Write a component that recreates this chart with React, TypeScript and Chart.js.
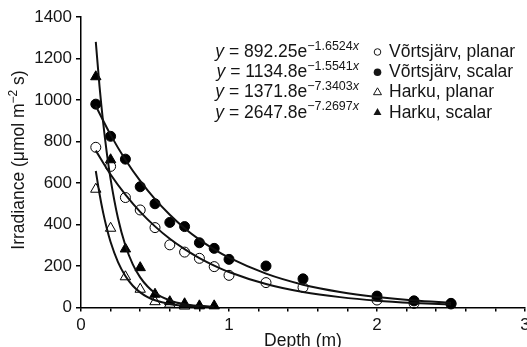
import React, { useEffect, useRef } from 'react';
import { Chart, registerables } from 'chart.js';

Chart.register(...registerables);

// ---- Data ----
const vortsDepths = [0.1, 0.2, 0.3, 0.4, 0.5, 0.6, 0.7, 0.8, 0.9, 1.0, 1.25, 1.5, 2.0, 2.25, 2.5];
const vortsPlanar = [772, 680, 530, 470, 385, 302, 267, 237, 197, 155, 120, 97, 36, 20, 17];
const vortsScalar = [980, 825, 715, 582, 500, 410, 390, 312, 285, 232, 200, 138, 55, 32, 20];

const harkuPlanarDepths = [0.1, 0.2, 0.3, 0.4, 0.5, 0.6, 0.7];
const harkuPlanar = [570, 382, 148, 88, 28, 16, 7];
const harkuScalarDepths = [0.1, 0.2, 0.3, 0.4, 0.5, 0.6, 0.7, 0.8, 0.9];
const harkuScalar = [1112, 712, 282, 192, 64, 28, 18, 8, 8];

// fitted curves
const vortsFitDepths = [0.1, 0.2, 0.3, 0.4, 0.5, 0.6, 0.7, 0.8, 0.9, 1.0, 1.25, 1.5, 1.75, 2.0, 2.25, 2.5];
const vortsPlanarFit = [756, 641, 544, 461, 391, 331, 281, 238, 202, 171, 113, 75, 50, 33, 22, 14];
const vortsScalarFit = [971, 832, 712, 610, 522, 447, 382, 327, 280, 240, 163, 110, 75, 51, 34, 23];
const harkuPlanarFitDepths = [0.1, 0.125, 0.15, 0.175, 0.2, 0.25, 0.3, 0.35, 0.4, 0.45, 0.5, 0.6, 0.7, 0.8];
const harkuPlanarFit = [658, 548, 456, 380, 316, 219, 152, 105, 73, 50, 35, 17, 8, 4];
const harkuScalarFitDepths = [0.1, 0.125, 0.15, 0.175, 0.2, 0.25, 0.3, 0.35, 0.4, 0.45, 0.5, 0.6, 0.7, 0.8, 0.9];
const harkuScalarFit = [1280, 1067, 890, 742, 619, 430, 299, 208, 145, 101, 70, 34, 16, 8, 4];

// ---- Text ----
const xTitle = 'Depth (m)';
const yTitleParts = ['Irradiance (\u03bcmol m', '\u22122', ' s)'];
const eqCoefs = ['892.25e', '1134.8e', '1371.8e', '2647.8e'];
const eqExps = ['\u22121.6524', '\u22121.5541', '\u22127.3403', '\u22127.2697'];
const legendLabels = ['V\u00f5rtsj\u00e4rv, planar', 'V\u00f5rtsj\u00e4rv, scalar', 'Harku, planar', 'Harku, scalar'];
const legendMarkers = ['openCircle', 'filledCircle', 'openTriangle', 'filledTriangle'];

const FONT = 'Liberation Sans, Arial, Helvetica, sans-serif';
const INK = '#151515';

const pts = (xs: number[], ys: number[]) => xs.map((x, i) => ({ x, y: ys[i] }));

const overlayPlugin = {
  id: 'overlayText',
  afterDraw(chart: any) {
    const ctx = chart.ctx as CanvasRenderingContext2D;
    const area = chart.chartArea;
    ctx.save();
    ctx.fillStyle = INK;
    ctx.strokeStyle = INK;

    // x title
    ctx.font = `17.5px ${FONT}`;
    ctx.textAlign = 'center';
    ctx.textBaseline = 'alphabetic';
    ctx.fillText(xTitle, (area.left + area.right) / 2, 346);

    // y title (rotated, with superscript)
    const mainF = `17.5px ${FONT}`;
    const supF = `12px ${FONT}`;
    ctx.font = mainF;
    const w0 = ctx.measureText(yTitleParts[0]).width;
    const w2 = ctx.measureText(yTitleParts[2]).width;
    ctx.font = supF;
    const w1 = ctx.measureText(yTitleParts[1]).width;
    const total = w0 + w1 + w2;
    ctx.save();
    ctx.translate(24, 160);
    ctx.rotate(-Math.PI / 2);
    ctx.textAlign = 'left';
    let cx = -total / 2;
    ctx.font = mainF;
    ctx.fillText(yTitleParts[0], cx, 0);
    cx += w0;
    ctx.font = supF;
    ctx.fillText(yTitleParts[1], cx, -7);
    cx += w1;
    ctx.font = mainF;
    ctx.fillText(yTitleParts[2], cx, 0);
    ctx.restore();

    // equations + legend
    const baseY = 57;
    const step = 20.2;
    const eqRight = 359;
    const mF = `17.5px ${FONT}`;
    const mIF = `italic 17.5px ${FONT}`;
    const sF = `12.5px ${FONT}`;
    const sIF = `italic 12.5px ${FONT}`;
    ctx.textAlign = 'left';
    for (let i = 0; i < eqCoefs.length; i++) {
      const by = baseY + i * step;
      const segs: [string, string, number][] = [
        ['y', mIF, 0],
        [' = ' + eqCoefs[i], mF, 0],
        [eqExps[i], sF, -7.5],
        ['x', sIF, -7.5],
      ];
      let tw = 0;
      const widths = segs.map(([t, f]) => {
        ctx.font = f;
        const w = ctx.measureText(t).width;
        tw += w;
        return w;
      });
      let sx = eqRight - tw;
      segs.forEach(([t, f, dy], k) => {
        ctx.font = f;
        ctx.fillText(t, sx, by + dy);
        sx += widths[k];
      });

      // marker
      const mx = 377.5;
      const my = by - 5;
      const m = legendMarkers[i];
      ctx.lineWidth = 1;
      ctx.beginPath();
      if (m.endsWith('Circle')) {
        ctx.arc(mx, my, m === 'openCircle' ? 3.3 : 3.8, 0, Math.PI * 2);
      } else {
        const r = 4.6;
        ctx.moveTo(mx, my - r);
        ctx.lineTo(mx + r * 0.866, my + r * 0.5);
        ctx.lineTo(mx - r * 0.866, my + r * 0.5);
        ctx.closePath();
      }
      if (m.startsWith('filled')) ctx.fill();
      else ctx.stroke();

      ctx.font = mF;
      ctx.fillText(legendLabels[i], 389, by);
    }
    ctx.restore();
  },
};

export default function App() {
  const ref = useRef<HTMLCanvasElement | null>(null);

  useEffect(() => {
    if (!ref.current) return;
    const scatterBase = {
      type: 'scatter' as const,
      showLine: false,
      borderColor: '#000',
      borderWidth: 1,
      pointRadius: 5,
      pointHoverRadius: 5,
      clip: false,
    };
    const fitBase = {
      type: 'line' as const,
      borderColor: '#111',
      borderWidth: 2,
      pointRadius: 0,
      fill: false,
      cubicInterpolationMode: 'monotone' as const,
    };
    const chart = new Chart(ref.current, {
      type: 'scatter',
      data: {
        datasets: [
          { ...fitBase, label: 'fit VP', data: pts(vortsFitDepths, vortsPlanarFit) },
          { ...fitBase, label: 'fit VS', data: pts(vortsFitDepths, vortsScalarFit) },
          { ...fitBase, label: 'fit HP', data: pts(harkuPlanarFitDepths, harkuPlanarFit) },
          { ...fitBase, label: 'fit HS', data: pts(harkuScalarFitDepths, harkuScalarFit) },
          {
            ...scatterBase,
            label: legendLabels[0],
            data: pts(vortsDepths, vortsPlanar),
            pointStyle: 'circle',
            backgroundColor: 'rgba(255,255,255,0)',
          },
          {
            ...scatterBase,
            label: legendLabels[1],
            data: pts(vortsDepths, vortsScalar),
            pointStyle: 'circle',
            backgroundColor: '#000',
          },
          {
            ...scatterBase,
            label: legendLabels[2],
            data: pts(harkuPlanarDepths, harkuPlanar),
            pointStyle: 'triangle',
            pointRadius: 6,
            pointHoverRadius: 6,
            backgroundColor: 'rgba(255,255,255,0)',
          },
          {
            ...scatterBase,
            label: legendLabels[3],
            data: pts(harkuScalarDepths, harkuScalar),
            pointStyle: 'triangle',
            pointRadius: 6,
            pointHoverRadius: 6,
            backgroundColor: '#000',
          },
        ] as any,
      },
      options: {
        animation: false,
        responsive: false,
        devicePixelRatio: 1,
        layout: { padding: { top: 17, right: 2, left: 0, bottom: 0 } },
        plugins: { legend: { display: false }, tooltip: { enabled: false }, title: { display: false } },
        scales: {
          x: {
            type: 'linear',
            min: 0,
            max: 3,
            border: { display: true, color: '#000', width: 1.5 },
            grid: { drawOnChartArea: false, drawTicks: true, tickLength: 4, color: '#000', lineWidth: 1.5 },
            ticks: {
              stepSize: 0.2,
              autoSkip: false,
              maxRotation: 0,
              padding: 4,
              color: INK,
              font: { family: FONT, size: 17 },
              callback: (v: any) => {
                const n = Number(v);
                return Math.abs(n - Math.round(n)) < 1e-6 ? String(Math.round(n)) : '';
              },
            },
            afterFit: (s: any) => {
              s.height = 39.5;
              s.paddingLeft = 0;
              s.paddingRight = 0;
            },
          },
          y: {
            type: 'linear',
            min: 0,
            max: 1400,
            border: { display: true, color: '#000', width: 1.5 },
            grid: { drawOnChartArea: false, drawTicks: true, tickLength: 5, color: '#000', lineWidth: 1.5 },
            ticks: {
              stepSize: 200,
              padding: 4,
              color: INK,
              font: { family: FONT, size: 17 },
              callback: (v: any) => String(v),
            },
            afterFit: (s: any) => {
              s.width = 81;
              s.paddingTop = 0;
              s.paddingBottom = 0;
            },
          },
        },
      } as any,
      plugins: [overlayPlugin],
    });
    // points near the edges should not shrink the plot area
    chart.getSortedVisibleDatasetMetas().forEach((meta: any) => {
      meta.controller.getMaxOverflow = () => 0;
    });
    chart.update();
    return () => chart.destroy();
  }, []);

  return (
    <div style={{ position: 'fixed', left: 0, top: 0, width: 527, height: 347, background: '#fff' }}>
      <canvas ref={ref} width={527} height={347} style={{ display: 'block', width: 527, height: 347 }} />
    </div>
  );
}
